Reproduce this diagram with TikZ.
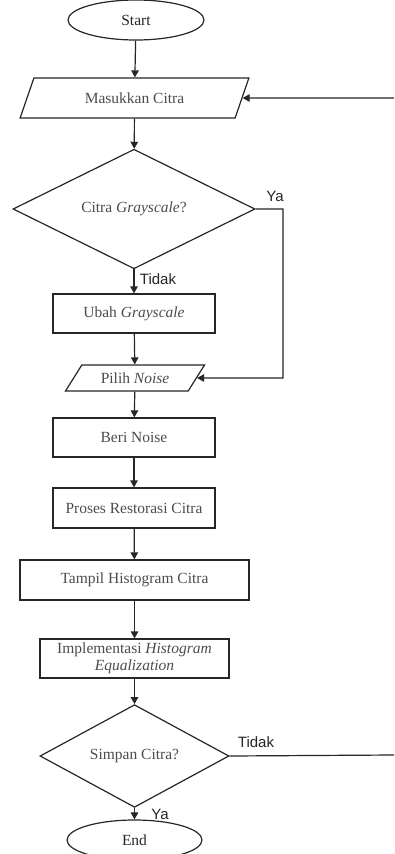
\documentclass[tikz,border=0pt]{standalone}
\usepackage{fontspec}
\setmainfont{Liberation Serif}
\newfontfamily\labelfont{Liberation Sans}
\usetikzlibrary{shapes.geometric,arrows.meta}

\tikzset{
  garis/.style={draw=black!85, line width=1.2pt},
  panah/.style={garis, -{Triangle[length=7pt,width=7.5pt]}},
  terminal/.style={garis, ellipse, inner sep=0pt, text=black!85,
    font=\fontsize{15.5}{17}\selectfont},
  proses/.style={garis, rectangle, inner sep=0pt, text=black!70,
    font=\fontsize{15.5}{17}\selectfont, align=center},
  masukan/.style={garis, trapezium, trapezium stretches=true, inner sep=0pt,
    text=black!70, font=\fontsize{15.5}{17}\selectfont},
  keputusan/.style={garis, diamond, inner sep=0pt, text=black!70,
    font=\fontsize{15.5}{17}\selectfont},
  label/.style={text=black!85, font=\labelfont\fontsize{15}{16}\selectfont}
}

\begin{document}
\begin{tikzpicture}[x=1pt, y=-1pt]
  \useasboundingbox (0,0) rectangle (394,854);

  \node[terminal, minimum width=136, minimum height=40] (start) at (136,20) {Start};
  \node[masukan, trapezium left angle=58, trapezium right angle=122,
        minimum width=229, minimum height=40] (masuk) at (134.5,98) {Masukkan Citra};
  \node[keputusan, minimum width=242, minimum height=102] (gray) at (134,209)
        {Citra \textit{Grayscale}?};
  \node[proses, minimum width=162, minimum height=39] (ubah) at (134,313.5)
        {Ubah \textit{Grayscale}};
  \node[masukan, trapezium left angle=46, trapezium right angle=134,
        minimum width=140, minimum height=26] (pilih) at (135,378) {Pilih \textit{Noise}};
  \node[proses, minimum width=162, minimum height=39] (beri) at (134,437.5) {Beri Noise};
  \node[proses, minimum width=162, minimum height=40] (restorasi) at (134,508)
        {Proses Restorasi Citra};
  \node[proses, minimum width=229, minimum height=40] (tampil) at (134.5,580)
        {Tampil Histogram Citra};
  \node[proses, minimum width=189, minimum height=39] (impl) at (134.5,658.5)
        {Implementasi \textit{Histogram}\\[0pt]\textit{Equalization}};
  \node[keputusan, minimum width=189, minimum height=76] (simpan) at (134.5,756)
        {Simpan Citra?};
  \node[terminal, minimum width=135, minimum height=40] (end) at (134.5,840) {End};

  \coordinate (belok) at (283,209);
  \coordinate (belok2) at (283,378);
  \coordinate (kanan1) at (394,755);
  \coordinate (kanan2) at (394,98);

  % alur utama
  \draw[panah] (start) -- (masuk);
  \draw[panah] (masuk) -- (gray);
  \draw[panah] (gray) -- node[label, anchor=west, pos=0.4, xshift=2pt] (tidak1) {Tidak} (ubah);
  \draw[panah] (ubah) -- (pilih);
  \draw[panah] (pilih) -- (beri);
  \draw[panah] (beri) -- (restorasi);
  \draw[panah] (restorasi) -- (tampil);
  \draw[panah] (tampil) -- (impl);
  \draw[panah] (impl) -- (simpan);
  \draw[panah] (simpan) -- node[label, anchor=west, pos=0.55, xshift=13pt] (ya2) {Ya} (end);

  % cabang
  \draw[panah] (gray.east) -- (belok) -- (belok2) -- (pilih.east);
  \node[label] (ya1) at (275,196) {Ya};
  \draw[garis] (simpan.east) -- (kanan1);
  \node[label] (tidak2) at (256,742) {Tidak};
  \draw[panah] (kanan2) -- (masuk.east);
\end{tikzpicture}
\end{document}
